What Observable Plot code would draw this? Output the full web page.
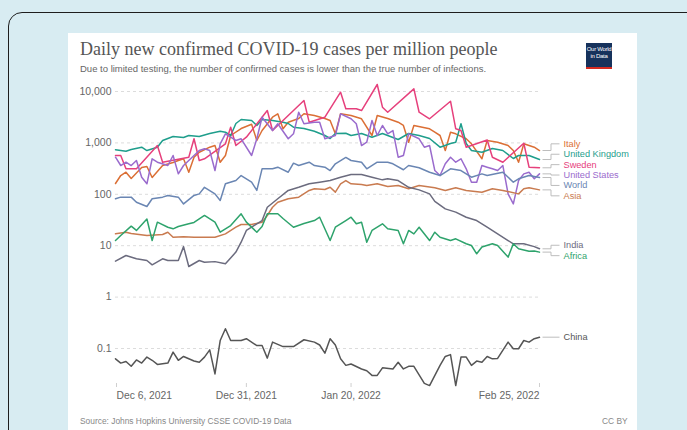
<!DOCTYPE html>
<html><head><meta charset="utf-8">
<script src="https://cdn.jsdelivr.net/npm/d3@7"></script>
<script src="https://cdn.jsdelivr.net/npm/@observablehq/plot@0.6"></script>
<style>
html,body{margin:0;padding:0;width:687px;height:430px;overflow:hidden;background:#d8ecf2;position:relative;}
#card{position:absolute;left:8px;top:12px;width:720px;height:480px;border:1.6px solid #1e1e1e;border-radius:14px;background:#d8ecf2;box-sizing:border-box;}
#panel{position:absolute;left:68px;top:33px;width:569px;height:420px;background:#fff;}
#title{position:absolute;left:80px;top:40px;font-family:"Liberation Serif","DejaVu Serif",serif;font-size:18px;line-height:18px;color:#555;white-space:nowrap;}
#subtitle{position:absolute;left:80px;top:64px;font-family:"Liberation Sans",Arial,sans-serif;font-size:9.5px;line-height:9.5px;color:#666;white-space:nowrap;}
#logo{position:absolute;left:586px;top:43px;width:26px;height:21px;background:#16325c;border-bottom:2px solid #d42b21;color:#fff;font-family:"Liberation Sans",Arial,sans-serif;font-size:6px;line-height:6.5px;text-align:center;padding-top:3px;box-sizing:content-box;letter-spacing:-0.3px;}
#source{position:absolute;left:80px;top:416px;font-family:"Liberation Sans",Arial,sans-serif;font-size:8.4px;color:#888;white-space:nowrap;}
#cc{position:absolute;left:602px;top:416px;font-family:"Liberation Sans",Arial,sans-serif;font-size:8.4px;color:#888;}
#chart{position:absolute;left:68px;top:75px;}
</style></head>
<body>
<div id="card"></div>
<div id="panel"></div>
<div id="title">Daily new confirmed COVID-19 cases per million people</div>
<div id="subtitle">Due to limited testing, the number of confirmed cases is lower than the true number of infections.</div>
<div id="logo">Our World<br>in Data</div>
<div id="chart"></div>
<div id="source">Source: Johns Hopkins University CSSE COVID-19 Data</div>
<div id="cc">CC BY</div>
<script>
// ---- data: [day offset from Dec 6, 2021, cases per million] ----
const startDate = "2021-12-06";
const endDate = "2022-02-25";
const yTicks = [0.1, 1, 10, 100, 1000, 10000];
const xTicks = ["2021-12-06", "2021-12-31", "2022-01-20", "2022-02-25"];

const italy = [[0,162],[1,232],[2,269],[3,203],[5,332],[6,347],[7,212],[9,363],[11,416],[12,455],[13,491],[14,269],[15,527],[16,659],[18,825],[19,889],[20,421],[21,569],[22,1393],[24,1905],[26,2300],[27,1114],[28,1741],[30,3162],[31,3681],[32,1880],[33,2529],[35,2985],[36,3681],[38,3412],[40,2985],[41,2729],[42,1503],[43,3681],[45,3412],[47,2945],[49,1393],[50,3412],[52,2985],[54,2529],[55,2182],[56,1032],[57,2182],[60,1880],[61,1615],[62,1393],[63,711],[64,1615],[65,1503],[67,1202],[68,960],[70,491],[71,1114],[73,1032],[75,889],[76,711],[77,421],[78,960],[80,825],[81,711]];
const unitedKingdom = [[0,734],[2,689],[3,745],[5,825],[6,711],[8,825],[9,1114],[11,1334],[13,1274],[14,1393],[16,1334],[18,1524],[20,1690],[21,1615],[22,1393],[23,2384],[24,2851],[26,2729],[27,2182],[28,2851],[30,2729],[32,2529],[33,2384],[34,2018],[36,1905],[38,1690],[40,1393],[41,1218],[42,1524],[44,1545],[45,1393],[47,1524],[49,1292],[51,1524],[52,1393],[54,1164],[56,1524],[58,1393],[60,1218],[62,825],[64,974],[65,1032],[66,2354],[67,974],[68,711],[70,659],[72,778],[74,711],[76,497],[77,569],[79,569],[81,475]];
const sweden = [[0,569],[1,569],[2,313],[4,313],[8,889],[9,421],[14,527],[15,1202],[16,455],[17,491],[21,960],[22,2018],[23,889],[25,1292],[29,4266],[30,1741],[32,2729],[36,6683],[37,2529],[40,3162],[43,9690],[44,4606],[46,4606],[47,4266],[50,13680],[51,4955],[52,3954],[57,11270],[58,3954],[60,2944],[64,6471],[65,1880],[66,1741],[67,825],[71,1141],[72,527],[74,421],[78,986],[79,337],[81,328]];
const unitedStates = [[0,527],[1,363],[2,421],[3,363],[4,455],[5,215],[6,160],[7,491],[8,421],[10,363],[11,569],[12,250],[13,363],[15,569],[16,711],[17,768],[18,711],[19,290],[20,960],[21,1503],[23,1114],[24,1202],[26,569],[27,1202],[28,3162],[30,1741],[31,2354],[33,1202],[34,1503],[35,3954],[36,2354],[38,2529],[39,2529],[40,1202],[42,1393],[43,3681],[45,2945],[46,2354],[47,889],[48,1032],[49,2729],[50,1393],[51,2182],[52,1503],[53,1741],[54,527],[55,569],[56,1503],[58,1202],[59,825],[60,889],[61,290],[62,232],[63,392],[64,527],[65,421],[66,491],[67,313],[68,172],[69,172],[70,363],[71,337],[72,313],[73,290],[74,363],[75,102],[76,65],[77,185],[78,250],[79,269],[80,200],[81,250]];
const world = [[0,82],[1,88],[3,88],[4,70],[6,58],[7,82],[9,88],[10,95],[12,88],[13,65],[15,95],[16,102],[17,137],[19,102],[20,76],[21,160],[23,185],[24,232],[26,172],[27,119],[28,313],[30,313],[31,337],[33,269],[34,403],[35,363],[37,421],[38,363],[40,337],[41,290],[42,392],[44,522],[45,455],[47,421],[48,313],[50,421],[52,421],[53,392],[55,300],[56,363],[58,328],[60,269],[62,232],[64,313],[66,290],[68,215],[70,250],[71,232],[74,269],[76,172],[77,200],[79,232],[81,212]];
const asia = [[0,17],[2,18.3],[3,17.3],[6,15.8],[9,16.5],[10,18.3],[11,14.6],[13,15],[15,14.6],[17,14.6],[19,14.6],[21,17],[23,22.9],[24,25.8],[26,25.8],[28,28.7],[29,38.7],[30,56],[31,70],[33,82],[35,88],[37,119],[38,128],[40,124],[41,137],[42,110],[43,160],[44,185],[45,160],[47,155],[48,148],[50,160],[52,142],[54,148],[56,128],[58,148],[61,134],[63,119],[65,134],[67,119],[70,110],[72,128],[74,119],[77,102],[78,128],[79,134],[81,122]];
const india = [[0,5],[2,6.45],[4,5.56],[6,5.15],[7,4.25],[9,5.56],[10,5.15],[12,5.15],[13,9.6],[14,3.94],[16,5.15],[17,4.78],[19,4.9],[21,4.44],[23,7.5],[24,11.7],[25,19.8],[28,30.9],[29,56],[31,82],[33,119],[35,137],[37,160],[39,172],[41,185],[43,215],[45,243],[47,243],[49,215],[51,191],[52,200],[54,185],[56,137],[58,122],[60,102],[61,73],[63,52],[65,45],[67,35.8],[69,30.9],[71,22.9],[73,17],[75,12.6],[76,10.9],[78,10.9],[80,9.6],[81,8.7]];
const africa = [[0,12.6],[1,15.8],[3,24],[4,19.8],[6,33],[7,12.6],[8,28.7],[10,22.9],[11,21.3],[12,23.6],[14,26.7],[15,28.3],[17,38.7],[19,28.7],[20,18.3],[22,24.7],[24,41.8],[25,28.7],[27,18.3],[28,23.6],[29,41.8],[31,41.8],[32,33.8],[34,22.9],[36,27],[38,30.9],[39,35.8],[41,12.6],[42,22.9],[44,30.9],[45,35.8],[46,26.7],[47,28.7],[48,11.7],[49,19.8],[51,26.7],[52,21.3],[54,19.8],[55,10.9],[56,19.8],[57,17],[58,22.9],[60,12.6],[61,18.3],[62,14.6],[64,12.6],[65,13.6],[67,10.9],[68,10.1],[69,6.95],[70,9.4],[72,10.9],[73,10.1],[75,6],[76,10.9],[77,8.7],[79,7.8],[80,7.9],[81,7.5]];
const china = [[0,0.063],[1,0.052],[2,0.056],[3,0.045],[4,0.060],[5,0.052],[6,0.068],[7,0.059],[8,0.049],[10,0.052],[11,0.085],[12,0.059],[13,0.070],[15,0.057],[16,0.054],[17,0.068],[18,0.094],[19,0.032],[20,0.143],[21,0.242],[22,0.143],[24,0.143],[25,0.155],[27,0.114],[28,0.114],[29,0.065],[30,0.133],[32,0.109],[34,0.109],[36,0.148],[38,0.133],[39,0.117],[40,0.081],[41,0.155],[42,0.117],[43,0.063],[44,0.047],[45,0.050],[47,0.040],[48,0.037],[49,0.030],[50,0.030],[51,0.042],[53,0.040],[54,0.054],[55,0.040],[56,0.045],[57,0.045],[59,0.021],[60,0.019],[62,0.047],[63,0.070],[64,0.076],[65,0.019],[66,0.068],[67,0.068],[68,0.047],[69,0.057],[70,0.054],[71,0.070],[72,0.063],[73,0.064],[75,0.133],[76,0.099],[77,0.099],[78,0.143],[79,0.133],[80,0.155],[81,0.166]];

const seriesNames = ["Italy","United Kingdom","Sweden","United States","World","Asia","India","Africa","China"];
const seriesData = [italy, unitedKingdom, sweden, unitedStates, world, asia, india, africa, china];
const seriesColors = ["#db6f35","#1f9e8c","#e6407c","#9a6bcd","#6a86b3","#c97b50","#6b6b7e","#2ea36c","#555555"];

// ---- build ----
const t0 = new Date(startDate + "T00:00:00Z");
const dayToDate = d => new Date(t0.getTime() + d * 86400000);
const series = seriesNames.map((name, i) => ({
  name, color: seriesColors[i],
  rows: seriesData[i].map(([d, v]) => ({date: dayToDate(d), value: v}))
}));

const W = 569, H = 345, ML = 47, MR = 98, MB = 37, MT = 10;
const yRange = [273, 16];
const xDomain = [new Date(startDate + "T00:00:00Z"), new Date(endDate + "T00:00:00Z")];
const xs = Plot.scale({x: {type: "utc", domain: xDomain, range: [ML, W - MR]}});
const ys = Plot.scale({y: {type: "log", domain: [0.1, 10000], range: yRange}});

// label dodge (pixel space)
const ends = series.map(s => {
  const last = s.rows[s.rows.length - 1];
  return {name: s.name, color: s.color, date: last.date, value: last.value, py: ys.apply(last.value)};
}).sort((a, b) => a.py - b.py);
const gap = 10.4;
let clusters = ends.map(p => ({items: [p], center: p.py}));
let changed = true;
while (changed) {
  changed = false;
  for (let i = 0; i < clusters.length - 1; i++) {
    const a = clusters[i], b = clusters[i + 1];
    const aBot = a.center + (a.items.length - 1) * gap / 2;
    const bTop = b.center - (b.items.length - 1) * gap / 2;
    if (bTop - aBot < gap) {
      const items = a.items.concat(b.items);
      clusters.splice(i, 2, {items, center: d3.mean(items, d => d.py)});
      changed = true; break;
    }
  }
}
clusters.forEach(c => c.items.forEach((p, k) => {
  p.ly = c.center + (k - (c.items.length - 1) / 2) * gap;
  p.labelValue = ys.invert(p.ly);
}));
const xEndPx = xs.apply(xDomain[1]);
const linkX1 = xs.invert(xEndPx + 3);
const linkX2 = xs.invert(xEndPx + 20);

const fmtY = v => v >= 1 ? d3.format(",")(v) : String(v);
const fmtX = d3.utcFormat("%b %-d, %Y");
const xt = xTicks.map(s => new Date(s + "T00:00:00Z"));

const chart = Plot.plot({
  width: W, height: H, marginLeft: ML, marginRight: MR, marginTop: MT, marginBottom: MB,
  x: {type: "utc", domain: xDomain, label: null},
  y: {type: "log", domain: [0.1, 10000], range: yRange, label: null},
  style: {fontFamily: "'Liberation Sans', Arial, sans-serif", background: "transparent", overflow: "visible"},
  marks: [
    Plot.ruleY(yTicks, {stroke: "#dcdcdc", strokeDasharray: "3,3"}),
    Plot.axisY(yTicks, {tickSize: 0, tickPadding: 4, fontSize: 10.5, fill: "#666", tickFormat: fmtY, label: null}),
    Plot.axisX([xt[0]], {textAnchor: "start", dx: 1, tickSize: 4, stroke: "#cfcfcf", fill: "#666", fontSize: 10.3, tickPadding: 4, tickFormat: fmtX, label: null}),
    Plot.axisX(xt.slice(1, 3), {tickSize: 4, stroke: "#cfcfcf", fill: "#666", fontSize: 10.3, tickPadding: 4, tickFormat: fmtX, label: null}),
    Plot.axisX([xt[3]], {textAnchor: "end", tickSize: 4, stroke: "#cfcfcf", fill: "#666", fontSize: 10.3, tickPadding: 4, tickFormat: fmtX, label: null}),
    ...series.map(s => Plot.line(s.rows, {x: "date", y: "value", stroke: s.color, strokeWidth: 1.5})),
    Plot.link(ends, {x1: () => linkX1, y1: "value", x2: () => linkX2, y2: "labelValue", curve: "step", stroke: "#bdbdbd", strokeWidth: 1}),
    Plot.text(ends, {x: "date", y: "labelValue", text: "name", fill: "color", textAnchor: "start", dx: 24, fontSize: 9.2})
  ]
});
document.getElementById("chart").appendChild(chart);
</script>
</body></html>
